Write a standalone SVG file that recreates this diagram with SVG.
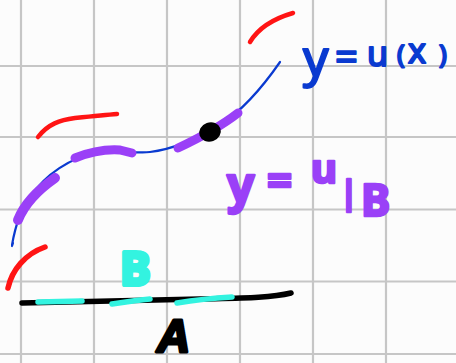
<svg xmlns="http://www.w3.org/2000/svg" width="456" height="363" viewBox="0 0 456 363">
<style>
.grid line{stroke:#c6c6c6;stroke-width:2.2}
.s{fill:none;stroke-linecap:round;stroke-linejoin:round}
.red{stroke:#ff1414;stroke-width:4.5}
.blue{stroke:#0a3ad0;stroke-width:2.2}
.pur{stroke:#9a40f7;stroke-width:9}
.cyan{stroke:#33f3e0;stroke-width:5.5}
.hand{font-family:"Noto Sans","Liberation Sans",sans-serif;stroke-linejoin:round}
</style>
<rect width="456" height="363" fill="#fcfcfc"/>
<g id="grid" class="grid">
<line x1="21" y1="0" x2="21" y2="363"/><line x1="94" y1="0" x2="94" y2="363"/><line x1="167" y1="0" x2="167" y2="363"/><line x1="240" y1="0" x2="240" y2="363"/><line x1="313" y1="0" x2="313" y2="363"/><line x1="386" y1="0" x2="386" y2="363"/>
<line x1="0" y1="66" x2="456" y2="66"/><line x1="0" y1="137" x2="456" y2="137"/><line x1="0" y1="209.5" x2="456" y2="209.5"/><line x1="0" y1="281.5" x2="456" y2="281.5"/><line x1="0" y1="354" x2="456" y2="354"/>
</g>
<g id="red-marks">
<path class="s red" d="M250,42 Q262,22 293,13"/>
<path class="s red" d="M38,137 C48,124 60,120 75,118 C95,116 105,115 117,114"/>
<path class="s red" d="M8,288 C12,270 25,254 45,247" style="stroke-width:5.5"/>
</g>
<g id="curve-u">
<path class="s blue" d="M13,243 L12,246 M12,245 C15,228 20,210 30,197 C45,175 70,157 100,152 C120,149 135,154 150,152 C175,149 200,137 220,125 C240,112 262,88 280,62"/>
</g>
<g id="restriction">
<path class="s pur" d="M18,220 C24,205 35,192 55,178" style="stroke-width:10"/>
<path class="s pur" d="M75,158 C90,152 105,149 120,150 L132,153"/>
<path class="s pur" d="M178,148 C195,140 220,127 238,113"/>
</g>
<g id="point">
<ellipse cx="210" cy="132" rx="11" ry="9.5" transform="rotate(-20 210 132)" fill="#000"/>
</g>
<g id="segment-A">
<path class="s" d="M22,303 L200,299 C240,298 270,298 291,293" stroke="#000" stroke-width="5.5"/>
</g>
<g id="segment-B">
<path class="s cyan" d="M38,302 L82,301"/>
<path class="s cyan" d="M112,304 C125,302 138,300 150,299"/>
<path class="s cyan" d="M177,303 C195,300 215,298 232,297"/>
</g>
<g id="label-u">
<text class="hand" fill="#0a3ad0" stroke="#0a3ad0" stroke-width="2" font-size="32"><tspan x="303" y="76" font-size="50">y</tspan><tspan x="335" y="71" font-size="40">=</tspan><tspan x="367" y="66" font-size="34">u</tspan><tspan x="397" y="63" font-size="26">(</tspan><tspan x="408" y="63" font-size="34">x</tspan><tspan x="439" y="63" font-size="26">)</tspan></text>
</g>
<g id="label-uB">
<text class="hand" fill="#9a40f7" stroke="#9a40f7" stroke-width="2.5" font-size="40" font-weight="bold"><tspan x="227" y="202" font-size="48">y</tspan><tspan x="267" y="196" font-size="44">=</tspan><tspan x="311" y="183">u</tspan><tspan x="340" y="204" font-size="32">|</tspan><tspan x="361" y="216" font-size="44">B</tspan></text>
</g>
<g id="label-B">
<text class="hand" x="120" y="285" fill="#33f3e0" stroke="#33f3e0" stroke-width="4" font-size="46" font-weight="bold">B</text>
</g>
<g id="label-A">
<text x="157" y="352" fill="#000" stroke="#000" stroke-width="3" stroke-linejoin="round" font-family="'Liberation Sans',sans-serif" font-size="46" font-weight="bold" font-style="italic">A</text>
</g>
</svg>
